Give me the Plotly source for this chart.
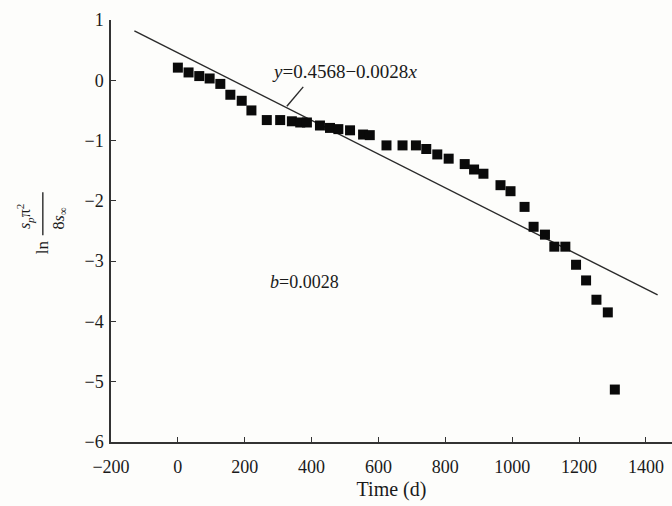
import plotly.graph_objects as go

# Measured data (Time in days, ln(s_p*pi^2 / 8 s_inf))
time_d = [0, 32, 64, 95, 127, 157, 191, 220, 266, 306, 341, 366, 386, 425, 455, 480,
          515, 554, 574, 624, 672, 712, 743, 776, 810, 858, 886, 914, 965, 995,
          1037, 1064, 1098, 1126, 1159, 1191, 1221, 1252, 1286, 1307]
ln_ratio = [0.21, 0.13, 0.07, 0.03, -0.06, -0.24, -0.34, -0.50, -0.66, -0.66, -0.68, -0.70,
            -0.70, -0.75, -0.79, -0.81, -0.83, -0.90, -0.91, -1.08, -1.08, -1.08, -1.14,
            -1.23, -1.30, -1.39, -1.48, -1.55, -1.74, -1.84, -2.10, -2.43, -2.56, -2.76,
            -2.76, -3.06, -3.32, -3.64, -3.85, -5.13]

# Fitted line y = a + b x
fit_a = 0.4568
fit_b = -0.0028
fit_x = [-130, 1435]
fit_y = [fit_a + fit_b * v for v in fit_x]

x_ticks = [-200, 0, 200, 400, 600, 800, 1000, 1200, 1400]
y_ticks = [-6, -5, -4, -3, -2, -1, 0, 1]

# leader line for equation label (data coords)
leader_x = [326, 375]
leader_y = [-0.43, -0.11]

FONT = "Liberation Serif"
INK = "#1a1a1a"

fig = go.Figure()
fig.add_trace(go.Scatter(x=fit_x, y=fit_y, mode="lines",
                         line=dict(color="#2a2a2a", width=1.4), hoverinfo="skip"))
fig.add_trace(go.Scatter(x=leader_x, y=leader_y, mode="lines",
                         line=dict(color="#2a2a2a", width=1.4), hoverinfo="skip"))
fig.add_trace(go.Scatter(x=time_d, y=ln_ratio, mode="markers",
                         marker=dict(symbol="square", size=10, color="#0a0a0a",
                                     line=dict(width=0))))

fig.add_annotation(x=275, y=0.14, xref="x", yref="y", xanchor="left", yanchor="middle",
                   text="<i>y</i>=0.4568−0.0028<i>x</i>", showarrow=False,
                   font=dict(family=FONT, size=19, color=INK))
fig.add_annotation(x=270, y=-3.35, xref="x", yref="y", xanchor="left", yanchor="middle",
                   text="<i>b</i>=0.0028", showarrow=False,
                   font=dict(family=FONT, size=18, color=INK))

# y-axis title as a rotated fraction: ln (s_p π^2) / (8 s_∞)
lab_font = dict(family=FONT, size=16, color=INK)
fig.add_annotation(x=-0.1535, y=0.535, xref="paper", yref="paper", xanchor="center",
                   yanchor="middle", textangle=-90, showarrow=False,
                   text="<i>s<sub>p</sub></i>π<sup>2</sup>", font=lab_font)
fig.add_annotation(x=-0.0925, y=0.530, xref="paper", yref="paper", xanchor="center",
                   yanchor="middle", textangle=-90, showarrow=False,
                   text="8<i>s</i><sub>∞</sub>", font=lab_font)
fig.add_annotation(x=-0.1225, y=0.462, xref="paper", yref="paper", xanchor="center",
                   yanchor="middle", textangle=-90, showarrow=False,
                   text="ln", font=dict(family=FONT, size=17, color=INK))
fig.add_shape(type="line", xref="paper", yref="paper", x0=-0.1215, x1=-0.1215,
              y0=0.490, y1=0.592, line=dict(color=INK, width=1.3))

axis_common = dict(showgrid=False, zeroline=False, showline=True, linecolor="#333333",
                   linewidth=1.5, ticks="inside", ticklen=5, tickwidth=1.3,
                   tickcolor="#333333", tickfont=dict(family=FONT, size=18, color=INK))

fig.update_layout(
    width=672, height=506,
    margin=dict(l=111, r=0, t=20, b=64, autoexpand=False),
    paper_bgcolor="#fdfdfb", plot_bgcolor="#fdfdfb",
    showlegend=False,
    xaxis=dict(range=[-200, 1478], tickvals=x_ticks, ticklabelstandoff=8,
               title=dict(text="Time (d)", font=dict(family=FONT, size=20, color=INK),
                          standoff=6),
               **axis_common),
    yaxis=dict(range=[-6, 1], tickvals=y_ticks, ticklabelstandoff=2, **axis_common),
)

fig.write_html("out.html", config={"displayModeBar": False},
               post_script="document.body.style.margin='0';")
